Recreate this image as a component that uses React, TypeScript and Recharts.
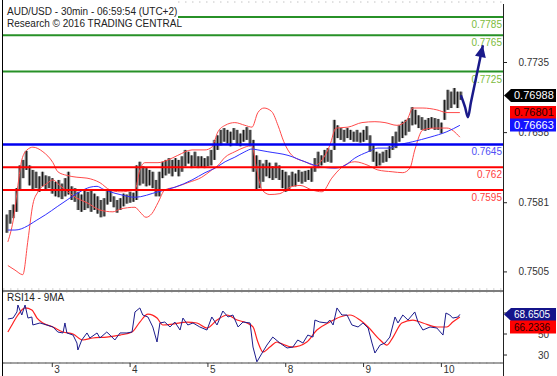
import React from "react";
import {
  Bar,
  CartesianGrid,
  ComposedChart,
  Line,
  ReferenceLine,
  XAxis,
  YAxis,
} from "recharts";

const FONT = '"Liberation Sans", Arial, sans-serif';

// hourly bars (index = hours from first bar)
const barHigh = [
  0.7568, 0.7573, 0.7579, 0.7597, 0.7622, 0.7628, 0.7638, 0.7622, 0.7617, 0.7615,
  0.761, 0.7615, 0.7611, 0.761, 0.7608, 0.7604, 0.7606, 0.7602, 0.7608, 0.7615,
  0.7599, 0.7597, 0.7593, 0.759, 0.7595, 0.7593, 0.7595, 0.7591, 0.7588, 0.7584,
  0.7586, 0.7595, 0.7594, 0.7588, 0.7584, 0.7586, 0.7591, 0.759, 0.7593, 0.7592,
  0.7622, 0.7626, 0.7621, 0.7619, 0.7617, 0.7615, 0.7606, 0.7615, 0.7626, 0.7628,
  0.763, 0.7628, 0.763, 0.7628, 0.7632, 0.7639, 0.7637, 0.7633, 0.7637, 0.7632,
  0.7632, 0.763, 0.7632, 0.7639, 0.765, 0.7655, 0.7661, 0.7663, 0.7661, 0.7659,
  0.7663, 0.7661, 0.7657, 0.7661, 0.7664, 0.7661, 0.765, 0.7633, 0.7628, 0.7624,
  0.7628, 0.7625, 0.7621, 0.7625, 0.7622, 0.7617, 0.7615, 0.7611, 0.7615, 0.7613,
  0.7617, 0.7615, 0.7616, 0.7617, 0.7619, 0.763, 0.7637, 0.7633, 0.7639, 0.7641,
  0.7639, 0.7672, 0.7666, 0.7663, 0.7661, 0.7663, 0.7661, 0.7659, 0.7661, 0.7658,
  0.7661, 0.7665, 0.7655, 0.7644, 0.7637, 0.7635, 0.7637, 0.7639, 0.7643, 0.7654,
  0.7659, 0.7666, 0.767, 0.7672, 0.7674, 0.7686, 0.7683, 0.7677, 0.7675, 0.7672,
  0.7674, 0.7675, 0.7674, 0.7673, 0.7669, 0.7694, 0.7705, 0.7703, 0.7707, 0.7703,
  0.7703,
];
const barLow = [
  0.7548, 0.7558, 0.7564, 0.7571, 0.7595, 0.7608, 0.7617, 0.76, 0.7595, 0.7597,
  0.7593, 0.7599, 0.7595, 0.7597, 0.7591, 0.7588, 0.7587, 0.7585, 0.7588, 0.759,
  0.7584, 0.7582, 0.7573, 0.7571, 0.7573, 0.7575, 0.7571, 0.7573, 0.7569, 0.7565,
  0.7566, 0.7579, 0.7582, 0.7576, 0.757, 0.7573, 0.7577, 0.758, 0.7581, 0.7582,
  0.7584, 0.76, 0.7602, 0.7599, 0.76, 0.7597, 0.7588, 0.7588, 0.7608, 0.7611,
  0.7613, 0.761, 0.7615, 0.761, 0.7615, 0.7621, 0.7624, 0.7619, 0.7621, 0.7619,
  0.762, 0.7619, 0.7621, 0.7622, 0.7628, 0.7639, 0.7644, 0.7648, 0.7646, 0.7643,
  0.765, 0.7644, 0.7643, 0.7648, 0.765, 0.7643, 0.7615, 0.7595, 0.7597, 0.7604,
  0.761, 0.7608, 0.7606, 0.7608, 0.7606, 0.7597, 0.7593, 0.7595, 0.7599, 0.7599,
  0.7604, 0.7602, 0.7604, 0.7606, 0.7604, 0.7615, 0.7619, 0.7622, 0.7625, 0.7626,
  0.7625, 0.7639, 0.7652, 0.765, 0.7648, 0.7652, 0.765, 0.7648, 0.7648, 0.7647,
  0.7648, 0.765, 0.7637, 0.7626, 0.7621, 0.7622, 0.7625, 0.7626, 0.763, 0.7639,
  0.7641, 0.7648, 0.7652, 0.7655, 0.7659, 0.7666, 0.7667, 0.7663, 0.7661, 0.766,
  0.7661, 0.7663, 0.7661, 0.7661, 0.7657, 0.7672, 0.7683, 0.7685, 0.7689, 0.7685,
  0.7694,
];

// bollinger bands, read at irregular hour positions
const upperT = [
  0.3, 2.2, 3.4, 4.6, 6.2, 8.0, 11.1, 14.2, 15.7, 18.5, 21.6, 24.7, 28.7, 31.8, 34.9,
  39.5, 41.0, 42.6, 46.6, 49.7, 52.7, 57.1, 61.1, 63.2, 65.1, 67.3, 70.3, 73.4, 75.6,
  77.4, 79.3, 81.7, 83.6, 85.4, 87.9, 91.9, 95.0, 97.2, 99.6, 101.5, 105.2, 109.5,
  113.5, 116.6, 120.3, 123.4, 125.2, 128.3, 132.6, 135.7, 139.7,
];
const upperV = [
  0.7538, 0.7567, 0.76, 0.7628, 0.7639, 0.7642, 0.7637, 0.7625, 0.7615, 0.7611,
  0.7609, 0.7608, 0.7603, 0.7595, 0.7593, 0.7595, 0.7617, 0.7625, 0.7625, 0.7628,
  0.7633, 0.7639, 0.7639, 0.7642, 0.7659, 0.7666, 0.7669, 0.7666, 0.7664, 0.768,
  0.7685, 0.7681, 0.7666, 0.7648, 0.7633, 0.7626, 0.7622, 0.7628, 0.7644, 0.7663,
  0.7664, 0.7669, 0.767, 0.7669, 0.7666, 0.7672, 0.7685, 0.7685, 0.7683, 0.768,
  0.768,
];
const lowerT = [
  0.3, 2.5, 4.9, 6.5, 8.0, 9.6, 12.3, 14.2, 16.3, 21.6, 24.7, 28.7, 32.7, 34.9, 39.5,
  41.0, 42.9, 44.7, 46.6, 48.7, 51.8, 55.8, 60.1, 63.2, 65.1, 67.3, 70.3, 73.4, 75.6,
  76.8, 78.7, 81.1, 84.2, 87.3, 90.4, 94.1, 97.2, 100.2, 103.3, 107.3, 111.4, 114.4,
  118.8, 122.1, 124.3, 125.8, 128.3, 132.0, 135.7, 139.7,
];
const lowerV = [
  0.7512, 0.7507, 0.7502, 0.754, 0.7579, 0.7593, 0.7602, 0.7606, 0.76, 0.7586,
  0.7581, 0.7573, 0.7571, 0.7574, 0.7576, 0.7571, 0.7565, 0.7569, 0.7581, 0.7595,
  0.7598, 0.7603, 0.7609, 0.7617, 0.7622, 0.7631, 0.7637, 0.7642, 0.7644, 0.7622,
  0.7595, 0.759, 0.7591, 0.7598, 0.76, 0.7595, 0.7593, 0.7608, 0.762, 0.7626,
  0.7622, 0.7617, 0.7615, 0.7614, 0.7619, 0.7639, 0.7661, 0.7663, 0.7663, 0.7653,
];
const maT = [
  0.3, 2.5, 10.2, 17.3, 22.5, 25.6, 27.8, 29.6, 31.8, 34.9, 39.5, 46.6, 51.8, 57.1,
  61.1, 64.2, 67.3, 70.3, 73.4, 75.6, 77.4, 80.5, 86.7, 91.9, 97.2, 101.2, 104.3,
  107.3, 111.4, 114.4, 118.1, 120.3, 125.2, 130.5, 135.7, 139.7,
];
const maV = [
  0.7551, 0.7551, 0.7564, 0.7581, 0.7593, 0.7598, 0.7599, 0.7596, 0.7593, 0.759,
  0.7587, 0.7593, 0.7598, 0.7606, 0.7614, 0.7619, 0.7626, 0.7631, 0.7637, 0.764,
  0.7639, 0.7637, 0.7633, 0.7626, 0.762, 0.7619, 0.7622, 0.763, 0.7637, 0.7641,
  0.7641, 0.7644, 0.7648, 0.7653, 0.7659, 0.7666,
];

// projected path
const arrowT = [140, 141.3, 142.2, 143.1, 146.8];
const arrowV = [0.7699, 0.7686, 0.7675, 0.7691, 0.7754];

// RSI14 and its 9MA
const rsiT = [
  0.3, 1.9, 3.1, 3.4, 4.6, 5.6, 6.5, 7.7, 8.0, 10.2, 12.3, 14.2, 15.7, 17.3, 17.9,
  18.5, 20.4, 21.6, 21.9, 23.1, 24.7, 25.6, 27.8, 28.7, 30.8, 31.8, 33.3, 34.9, 37.0,
  38.6, 39.5, 41.0, 41.9, 43.5, 45.0, 46.3, 47.2, 48.7, 50.3, 51.8, 53.4, 54.3, 55.8,
  57.4, 59.5, 61.7, 63.2, 64.8, 66.6, 68.2, 69.7, 71.3, 72.8, 75.0, 75.9, 77.1, 78.7,
  80.2, 82.0, 84.2, 86.4, 88.2, 89.7, 91.3, 92.8, 94.4, 95.0, 96.5, 98.7, 99.6, 100.6,
  101.8, 103.3, 104.9, 106.4, 108.3, 109.8, 111.4, 112.6, 113.5, 115.1, 116.6, 118.1,
  119.7, 120.6, 122.1, 123.7, 125.8, 126.8, 128.3, 130.5, 132.6, 134.5, 135.4, 136.6,
  137.5, 139.1, 139.7,
];
const rsiV = [
  64.3, 65.2, 71.0, 77.6, 68.1, 77.6, 65.2, 66.2, 58.6, 60.5, 58.6, 56.7, 51.9, 51.0,
  60.5, 51.0, 49.0, 41.4, 34.8, 44.3, 51.0, 46.2, 51.0, 46.2, 51.9, 49.0, 44.3, 51.0,
  51.0, 51.9, 71.0, 74.8, 68.1, 66.2, 56.7, 42.4, 60.5, 61.4, 56.7, 61.4, 53.8, 65.2,
  58.6, 60.5, 56.7, 53.8, 66.2, 58.6, 71.9, 66.2, 68.1, 56.7, 61.4, 60.5, 37.6, 23.5,
  31.9, 39.5, 47.1, 41.4, 36.7, 37.6, 44.3, 41.4, 49.0, 47.1, 63.3, 61.4, 60.5, 63.3,
  58.6, 74.8, 68.1, 68.1, 58.6, 56.7, 60.5, 55.7, 41.4, 31.9, 39.5, 41.4, 47.1, 66.2,
  60.5, 68.1, 63.3, 71.0, 61.4, 53.8, 56.7, 55.7, 49.0, 70.0, 68.1, 65.2, 66.2, 68.65,
];
const rsiMaT = [
  0.3, 1.9, 3.4, 5.6, 7.7, 9.3, 11.1, 14.2, 17.3, 20.4, 23.4, 26.5, 30.8, 34.9, 38.6,
  41.0, 43.5, 46.3, 48.1, 51.2, 55.5, 58.6, 61.7, 64.8, 67.9, 71.0, 74.0, 75.9, 77.4,
  79.0, 81.1, 83.3, 84.2, 88.2, 92.5, 95.6, 99.6, 102.7, 105.8, 108.9, 111.4, 115.1,
  117.2, 119.1, 121.8, 125.2, 128.3, 132.6, 135.7, 137.5, 139.7,
];
const rsiMaV = [
  51.9, 60.5, 68.1, 74.8, 72.9, 65.2, 60.5, 56.7, 51.9, 50.0, 44.3, 46.2, 47.1, 49.0,
  51.9, 61.4, 69.0, 65.2, 58.6, 59.5, 61.4, 60.5, 55.7, 63.3, 68.1, 63.3, 60.5, 56.7,
  42.4, 32.9, 37.6, 42.4, 41.4, 37.6, 42.4, 53.8, 61.4, 66.2, 68.1, 63.3, 56.7, 44.3,
  39.5, 47.1, 60.5, 63.3, 60.5, 56.7, 56.7, 61.4, 66.23,
];

const dayTicks = [14, 38, 62, 86, 110, 134];
const dayLabels = ["3", "4", "5", "8", "9", "10"];
const priceTicks = [0.7505, 0.7581, 0.7658, 0.7735];
const rsiTicks = [30, 50, 70];

const greenLevels = [0.7785, 0.7765, 0.7725];
const blueLevels = [0.7645];
const redLevels = [0.762, 0.7595];

const lastClose = 0.76988;
const lastUpper = 0.76801;
const lastMa = 0.76663;
const lastRsi = 68.6505;
const lastRsiMa = 66.2336;

const bars = barHigh.map((h, i) => ({ t: i, range: [barLow[i], h] }));
const pts = (ts: number[], vs: number[]) => ts.map((t, i) => ({ t, v: vs[i] }));
const upper = pts(upperT, upperV);
const lower = pts(lowerT, lowerV);
const ma = pts(maT, maV);
const arrow = pts(arrowT, arrowV);
const rsi = pts(rsiT, rsiV);
const rsiMa = pts(rsiMaT, rsiMaV);

const X_DOMAIN = [-1.2, 153];

function OhlcBar(props: any) {
  const { x, y, width, height } = props;
  if (x == null || y == null) return null;
  const cx = x + width / 2;
  const top = Math.min(y, y + height);
  const h = Math.abs(height);
  return (
    <g>
      <rect x={cx - 1.7} y={top} width={3.4} height={h} fill="#8a8a8a" />
      <line x1={cx} x2={cx} y1={top} y2={top + h} stroke="#111" strokeWidth={1} />
    </g>
  );
}

// right axis tick (drawn as a reference label so the value tags can cover it)
const axisLabel = (text: string) => (p: any) => {
  const vb = p.viewBox;
  const x = vb.x + vb.width;
  return (
    <g>
      <line x1={x} x2={x + 4} y1={vb.y} y2={vb.y} stroke="#222" />
      <text x={x + 46} y={vb.y + 3.5} textAnchor="end" fontSize={10} fill="#333" fontFamily={FONT}>
        {text}
      </text>
    </g>
  );
};

function DayTick(props: any) {
  const { x, y, payload } = props;
  const i = dayTicks.indexOf(payload.value);
  return (
    <g>
      <line x1={x} x2={x} y1={y} y2={y + 4} stroke="#333" />
      <text x={x + 2} y={y + 10} fontSize={10} fill="#333" fontFamily={FONT}>
        {dayLabels[i]}
      </text>
    </g>
  );
}

const levelLabel = (text: string, color: string) => (p: any) => {
  const vb = p.viewBox;
  return (
    <text x={vb.x + vb.width - 1} y={vb.y + 11} textAnchor="end" fontSize={10} fill={color} fontFamily={FONT}>
      {text}
    </text>
  );
};

const tag =
  (text: string, fill: string, color: string, arrowTip: boolean, size = 11, dy = 0) =>
  (p: any) => {
    const vb = p.viewBox;
    const x = vb.x + vb.width;
    const y = vb.y + dy;
    const h = 6.5;
    const left = x + 8;
    const right = x + 53;
    const d = arrowTip
      ? `M${x + 1},${y} L${left},${y - h} L${right},${y - h} L${right},${y + h} L${left},${y + h} Z`
      : `M${left - 1},${y - h} L${right},${y - h} L${right},${y + h} L${left - 1},${y + h} Z`;
    return (
      <g>
        <path d={d} fill={fill} />
        <text x={left + 3} y={y + 4} fontSize={size} fill={color} fontFamily={FONT}>
          {text}
        </text>
      </g>
    );
  };

function ArrowHead(props: any) {
  const { cx, cy, index } = props;
  if (index !== arrowT.length - 1) return <g key={index} />;
  return (
    <polygon
      key={index}
      points="0,0 -5.5,12 5.5,12"
      transform={`translate(${cx},${cy}) rotate(12)`}
      fill="#1a1a8a"
    />
  );
}

export default function App() {
  return (
    <div
      style={{
        position: "absolute",
        left: 0,
        top: 0,
        width: 557,
        height: 376,
        background: "#fff",
        fontFamily: FONT,
        overflow: "hidden",
      }}
    >
      <div style={{ position: "absolute", left: 0, top: 0 }}>
        <ComposedChart width={557} height={291} data={bars} margin={{ top: 2, right: 0, bottom: 2, left: 3 }}>
          <CartesianGrid vertical={false} stroke="#c4c4c4" strokeDasharray="1.5 5.5" />
          <XAxis type="number" dataKey="t" domain={X_DOMAIN} hide allowDataOverflow />
          <YAxis
            orientation="right"
            width={54}
            domain={[0.748624, 0.780145]}
            ticks={priceTicks}
            interval={0}
            allowDataOverflow
            axisLine={false}
            tickLine={false}
            tick={false}
          />
          <Line data={upper} dataKey="v" type="monotone" stroke="#ff4a4a" strokeWidth={1} dot={false} isAnimationActive={false} />
          <Line data={lower} dataKey="v" type="monotone" stroke="#ff4a4a" strokeWidth={1} dot={false} isAnimationActive={false} />
          <Line data={ma} dataKey="v" type="monotone" stroke="#3030ff" strokeWidth={1} dot={false} isAnimationActive={false} />
          <Bar dataKey="range" barSize={3} shape={<OhlcBar />} isAnimationActive={false} />
          {greenLevels.map((v) => (
            <ReferenceLine key={v} y={v} stroke="#279127" strokeWidth={2} label={levelLabel(String(v), "#7cbb3c")} />
          ))}
          {blueLevels.map((v) => (
            <ReferenceLine key={v} y={v} stroke="#0000f0" strokeWidth={2.5} label={levelLabel(String(v), "#5050f5")} />
          ))}
          {redLevels.map((v) => (
            <ReferenceLine key={v} y={v} stroke="#ff0000" strokeWidth={2} label={levelLabel(String(v), "#ff4040")} />
          ))}
          <Line
            data={arrow}
            dataKey="v"
            type="monotone"
            stroke="#1a1a8a"
            strokeWidth={2.5}
            dot={<ArrowHead />}
            isAnimationActive={false}
          />
          {priceTicks.map((v) => (
            <ReferenceLine key={`tick${v}`} y={v} stroke="none" label={axisLabel(String(v))} />
          ))}
          <ReferenceLine y={lastClose} stroke="none" label={tag(lastClose.toFixed(5), "#000", "#fff", true)} />
          <ReferenceLine y={lastUpper} stroke="none" label={tag(lastUpper.toFixed(5), "#ff0000", "#2a0000", false)} />
          <ReferenceLine y={lastMa} stroke="none" label={tag(lastMa.toFixed(5), "#1414ff", "#fff", false)} />
        </ComposedChart>
      </div>

      <div style={{ position: "absolute", left: 0, top: 291 }}>
        <ComposedChart width={557} height={85} data={rsi} margin={{ top: 1, right: 0, bottom: 0, left: 3 }}>
          <CartesianGrid vertical={false} stroke="#c4c4c4" strokeDasharray="1.5 5.5" />
          <XAxis
            type="number"
            dataKey="t"
            domain={X_DOMAIN}
            allowDataOverflow
            ticks={dayTicks}
            interval={0}
            height={13}
            tickSize={0}
            tickMargin={0}
            tickLine={false}
            axisLine={{ stroke: "#444" }}
            tick={<DayTick />}
          />
          <YAxis
            orientation="right"
            width={54}
            domain={[22.4, 90]}
            ticks={rsiTicks}
            interval={0}
            allowDataOverflow
            axisLine={false}
            tickLine={false}
            tick={false}
          />
          <Line data={rsiMa} dataKey="v" type="monotone" stroke="#ff2020" strokeWidth={1.2} dot={false} isAnimationActive={false} />
          <Line dataKey="v" type="linear" stroke="#1c1c8c" strokeWidth={1} dot={false} isAnimationActive={false} />
          {rsiTicks.map((v) => (
            <ReferenceLine key={`tick${v}`} y={v} stroke="none" label={axisLabel(String(v))} />
          ))}
          <ReferenceLine y={lastRsi} stroke="none" label={tag(lastRsi.toFixed(4), "#14148a", "#fff", true, 10)} />
          <ReferenceLine y={lastRsiMa} stroke="none" label={tag(lastRsiMa.toFixed(4), "#ff0000", "#2a0000", false, 10, 10)} />
        </ComposedChart>
      </div>

      {/* panel separator and frame */}
      <div style={{ position: "absolute", left: 3, top: 290, width: 500, height: 2, background: "#7d7d7d" }} />
      <div style={{ position: "absolute", left: 2, top: 0, width: 1, height: 376, background: "#000" }} />
      <div style={{ position: "absolute", left: 503, top: 4, width: 1, height: 372, background: "#222" }} />

      <div
        style={{
          position: "absolute",
          left: 3,
          top: 0,
          width: 175,
          height: 30,
          background: "#fff",
          paddingTop: 6,
          paddingLeft: 4,
          boxSizing: "border-box",
          fontSize: 10,
          lineHeight: "11.5px",
          color: "#222",
          whiteSpace: "nowrap",
        }}
      >
        <div>AUD/USD - 30min - 06:59:54 (UTC+2)</div>
        <div>Research © 2016 TRADING CENTRAL</div>
      </div>
      <div
        style={{
          position: "absolute",
          left: 7,
          top: 292,
          fontSize: 10,
          lineHeight: "11.5px",
          color: "#222",
        }}
      >
        RSI14 - 9MA
      </div>
    </div>
  );
}
